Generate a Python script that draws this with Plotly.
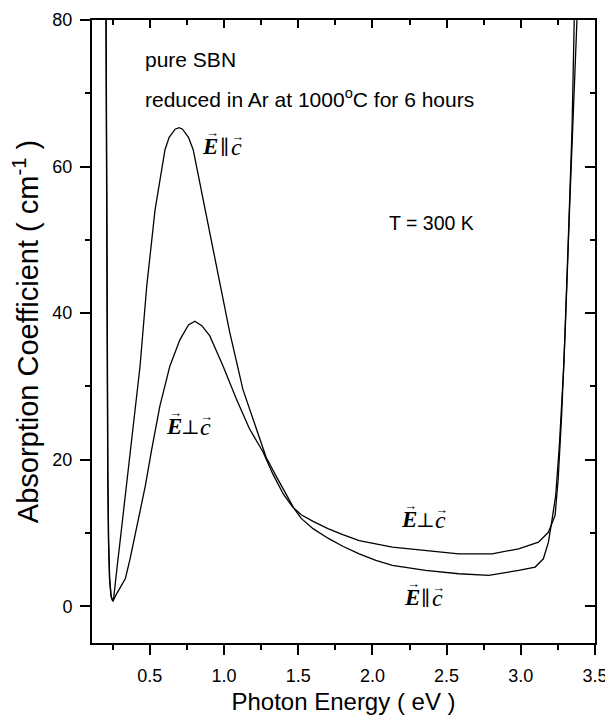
import plotly.graph_objects as go

# ---- data ----
x_par = [0.203, 0.205, 0.207, 0.209, 0.212, 0.216, 0.221, 0.228, 0.238, 0.250, 0.257, 0.265,
         0.280, 0.300, 0.330, 0.370, 0.400, 0.434, 0.479, 0.535, 0.602, 0.630, 0.670, 0.698,
         0.720, 0.760, 0.792, 0.859, 0.949, 1.038, 1.127, 1.217, 1.284, 1.350, 1.420, 1.470,
         1.520, 1.600, 1.700, 1.800, 1.911, 2.023, 2.134, 2.358, 2.582, 2.784, 2.985, 3.097,
         3.152, 3.186, 3.208, 3.235, 3.260, 3.290, 3.320, 3.345, 3.360, 3.370]
y_par = [86, 75, 60, 45, 30, 18, 9, 3.8, 1.4, 0.68, 1.3, 3.0,
         5.5, 9.0, 14.5, 21.5, 27.0, 32.8, 43.7, 54.1, 62.3, 64.0, 65.1, 65.3,
         65.1, 64.0, 62.3, 55.5, 46.4, 37.4, 29.6, 24.2, 20.3, 17.8, 15.2, 13.4,
         12.0, 10.6, 9.3, 8.2, 7.17, 6.26, 5.58, 4.9, 4.45, 4.22, 4.9, 5.36,
         6.49, 8.76, 11.5, 15.1, 22, 33, 50, 65, 80, 86]

x_perp = [0.204, 0.206, 0.208, 0.210, 0.213, 0.217, 0.222, 0.229, 0.239, 0.251, 0.270, 0.300,
          0.335, 0.367, 0.420, 0.470, 0.513, 0.568, 0.635, 0.703, 0.760, 0.803, 0.850, 0.904,
          0.993, 1.083, 1.172, 1.262, 1.330, 1.400, 1.460, 1.520, 1.600, 1.700, 1.800, 1.911,
          2.134, 2.358, 2.582, 2.806, 2.985, 3.119, 3.186, 3.231, 3.252, 3.275, 3.300, 3.330,
          3.355, 3.380, 3.390]
y_perp = [86, 75, 60, 45, 30, 18, 9, 3.8, 1.4, 0.7, 1.5, 2.6,
          3.8, 6.5, 11.5, 16.5, 21.5, 27.4, 32.8, 36.4, 38.4, 38.9, 38.3, 36.9,
          32.8, 28.3, 24.2, 21.1, 18.0, 15.3, 13.6, 12.5, 11.6, 10.6, 9.8, 8.98,
          8.08, 7.62, 7.17, 7.17, 7.85, 8.76, 10.1, 12.4, 17.4, 26, 38, 55,
          70, 82, 86]

x_ticks = [0.5, 1.0, 1.5, 2.0, 2.5, 3.0, 3.5]
x_tick_labels = ["0.5", "1.0", "1.5", "2.0", "2.5", "3.0", "3.5"]
y_ticks = [0, 20, 40, 60, 80]
y_tick_labels = ["0", "20", "40", "60", "80"]

x_range = [0.11, 3.5]
y_range = [-5, 80]

# label anchors: (x, y, symbol between E and c)
label_x = [1.0, 0.775, 2.36, 2.36]
label_y = [62.7, 24.5, 11.8, 1.2]
label_sym = ["\u2225", "\u22a5", "\u22a5", "\u2225"]

SANS = "Liberation Sans, Arial, sans-serif"
SERIF = "Liberation Serif, DejaVu Serif, serif"

fig = go.Figure()
fig.add_trace(go.Scatter(x=x_par, y=y_par, mode="lines",
                         line=dict(color="black", width=1.3), showlegend=False, hoverinfo="skip"))
fig.add_trace(go.Scatter(x=x_perp, y=y_perp, mode="lines",
                         line=dict(color="black", width=1.3), showlegend=False, hoverinfo="skip"))
# invisible trace to anchor the mirrored (top/right) axes
fig.add_trace(go.Scatter(x=x_par, y=y_par, mode="lines", xaxis="x2", yaxis="y2",
                         line=dict(color="rgba(0,0,0,0)", width=0), showlegend=False, hoverinfo="skip"))

# the page body adds an 8px offset, so margins are shifted to compensate
fig.update_layout(
    width=613, height=723,
    margin=dict(l=84, r=26, t=12, b=88, autoexpand=False),
    paper_bgcolor="white", plot_bgcolor="white",
    font=dict(family=SANS, size=18, color="black"),
    xaxis=dict(range=x_range, tickmode="array", tickvals=x_ticks, ticktext=x_tick_labels,
               ticks="outside", ticklen=10, tickwidth=2, tickcolor="black",
               minor=dict(dtick=0.25, tick0=0.0, ticks="outside", ticklen=5, tickwidth=2, tickcolor="black"),
               showline=True, linewidth=2, linecolor="black", showgrid=False, zeroline=False,
               automargin=False, tickfont=dict(size=18, family=SANS), ticklabelstandoff=5,
               title=dict(text="Photon Energy ( eV )", font=dict(size=24, family=SANS), standoff=9)),
    yaxis=dict(range=y_range, tickmode="array", tickvals=y_ticks, ticktext=y_tick_labels,
               ticks="outside", ticklen=10, tickwidth=2, tickcolor="black",
               minor=dict(dtick=10, tick0=0, ticks="outside", ticklen=5, tickwidth=2, tickcolor="black"),
               showline=True, linewidth=2, linecolor="black", showgrid=False, zeroline=False,
               automargin=False, tickfont=dict(size=18, family=SANS), ticklabelstandoff=4,
               title=dict(text="Absorption Coefficient ( cm<sup>-1</sup> )", font=dict(size=29, family=SANS), standoff=13)),
    xaxis2=dict(overlaying="x", side="top", matches="x", range=x_range,
                tickmode="array", tickvals=x_ticks, showticklabels=False,
                ticks="inside", ticklen=8, tickwidth=2, tickcolor="black",
                minor=dict(dtick=0.25, tick0=0.0, ticks="inside", ticklen=5, tickwidth=2, tickcolor="black"),
                showline=True, linewidth=2, linecolor="black", showgrid=False, zeroline=False,
                automargin=False),
    yaxis2=dict(overlaying="y", side="right", matches="y", range=y_range,
                tickmode="array", tickvals=y_ticks, showticklabels=False,
                ticks="inside", ticklen=10, tickwidth=2, tickcolor="black",
                minor=dict(dtick=10, tick0=0, ticks="inside", ticklen=5, tickwidth=2, tickcolor="black"),
                showline=True, linewidth=2, linecolor="black", showgrid=False, zeroline=False,
                automargin=False),
)

ann = []
ann.append(dict(x=0.455, y=74.6, text="pure SBN", xanchor="left", yanchor="middle",
                font=dict(size=21, family=SANS)))
ann.append(dict(x=0.455, y=69.3, text="reduced in Ar at 1000<sup>o</sup>C for 6 hours", xanchor="left",
                yanchor="middle", font=dict(size=21, family=SANS)))
ann.append(dict(x=2.40, y=52.3, text="T = 300 K", xanchor="center", yanchor="middle",
                font=dict(size=19.5, family=SANS)))

# vector labels built from glyphs: E, symbol, c, and arrows over E and c
for xx, yy, sym in zip(label_x, label_y, label_sym):
    wide = sym == "\u22a5"
    ex = -17 if wide else -14
    cx = 15 if wide else 12
    ann.append(dict(x=xx, y=yy, text="<i><b>E</b></i>", xshift=ex, font=dict(size=23, family=SERIF)))
    ann.append(dict(x=xx, y=yy, text=sym, xshift=0, yshift=0, font=dict(size=20, family=SERIF)))
    ann.append(dict(x=xx, y=yy, text="<i>c</i>", xshift=cx, font=dict(size=24, family=SERIF)))
    ann.append(dict(x=xx, y=yy, text="\u2192", xshift=ex + 2, yshift=14, font=dict(size=13, family=SERIF)))
    ann.append(dict(x=xx, y=yy, text="\u2192", xshift=cx + 1, yshift=10, font=dict(size=13, family=SERIF)))

for a in ann:
    a.update(xref="x", yref="y", showarrow=False)
    a.setdefault("xanchor", "center")
    a.setdefault("yanchor", "middle")
fig.update_layout(annotations=ann)

fig.write_html("out.html")
